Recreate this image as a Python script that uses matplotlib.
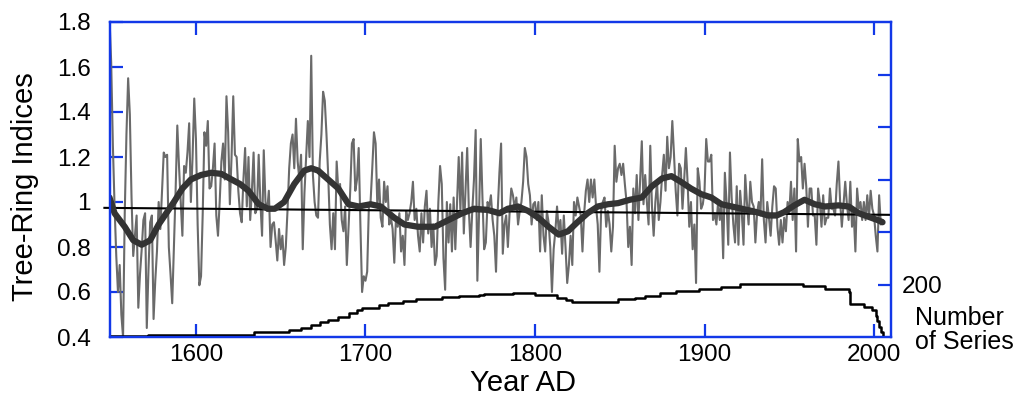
import numpy as np
import matplotlib
matplotlib.use('Agg')
import matplotlib.pyplot as plt

plt.rcParams['font.family'] = ['Liberation Sans', 'DejaVu Sans']

# Ringbreddeindeks per år, 1549-2005 (lest av figuren)
ring_index = [
    1.82,                                                              # 1549
    1.62, 1.25, 0.98, 0.76, 0.60, 0.72, 0.50, 0.40, 0.95, 1.30,        # 1550
    1.55, 1.39, 1.02, 0.76, 0.85, 0.94, 0.53, 0.68, 0.79, 0.92,        # 1560
    0.95, 0.44, 0.70, 0.91, 0.94, 0.48, 0.65, 0.78, 1.00, 0.88,        # 1570
    1.05, 1.22, 1.20, 1.21, 0.80, 0.68, 0.55, 0.80, 1.05, 1.34,        # 1580
    1.16, 1.00, 0.85, 1.16, 1.13, 1.22, 1.35, 1.00, 1.20, 1.46,        # 1590
    1.28, 0.90, 0.63, 0.67, 0.95, 1.31, 1.25, 1.36, 1.06, 1.07,        # 1600
    1.15, 1.26, 0.94, 0.85, 1.00, 1.18, 1.26, 1.10, 1.47, 1.31,        # 1610
    0.99, 1.20, 1.47, 1.21, 1.20, 1.05, 0.95, 0.91, 1.10, 1.24,        # 1620
    0.98, 1.20, 0.92, 1.05, 1.22, 0.95, 0.97, 1.21, 1.00, 0.85,        # 1630
    1.23, 1.00, 0.96, 1.05, 0.80, 0.90, 0.91, 0.83, 0.74, 0.88,        # 1640
    0.79, 0.85, 0.72, 0.80, 0.96, 1.15, 1.26, 1.30, 1.15, 1.37,        # 1650
    1.18, 1.10, 1.21, 0.79, 1.04, 1.20, 1.36, 1.20, 1.65, 1.12,        # 1660
    1.00, 0.94, 0.93, 1.18, 1.30, 1.49, 1.45, 1.30, 1.12, 0.90,        # 1670
    0.79, 0.95, 0.79, 1.18, 1.05, 1.08, 0.92, 0.87, 0.98, 0.72,        # 1680
    0.88, 1.05, 1.26, 1.28, 1.05, 1.10, 1.24, 0.90, 0.60, 0.67,        # 1690
    0.65, 0.69, 0.98, 1.00, 1.15, 1.31, 1.26, 0.98, 1.10, 0.93,        # 1700
    0.89, 1.09, 1.00, 1.07, 0.90, 0.93, 0.88, 0.73, 0.93, 0.89,        # 1710
    0.95, 0.78, 0.85, 0.72, 0.96, 0.92, 0.95, 1.00, 1.09, 0.92,        # 1720
    0.97, 0.85, 0.78, 0.95, 0.82, 0.98, 1.05, 0.86, 0.97, 0.80,        # 1730
    0.90, 0.72, 0.76, 1.00, 1.16, 1.08, 0.75, 0.61, 1.00, 0.82,        # 1740
    0.99, 0.78, 1.02, 0.79, 1.00, 1.20, 0.96, 1.22, 0.86, 1.05,        # 1750
    1.24, 0.96, 0.80, 0.96, 1.10, 1.32, 0.65, 0.95, 1.28, 1.02,        # 1760
    0.79, 0.82, 1.00, 0.98, 1.03, 0.92, 0.85, 0.69, 0.96, 1.13,        # 1770
    1.26, 0.77, 0.90, 0.94, 0.80, 0.95, 1.06, 1.03, 0.97, 1.02,        # 1780
    0.90, 0.96, 1.00, 1.09, 1.24, 1.20, 1.08, 1.03, 0.90, 0.99,        # 1790
    1.00, 0.92, 1.00, 0.78, 1.03, 0.85, 0.78, 0.96, 0.91, 0.80,        # 1800
    0.60, 0.79, 0.87, 0.98, 0.87, 0.92, 0.77, 0.94, 0.80, 0.64,        # 1810
    0.72, 0.85, 0.72, 1.00, 0.94, 1.02, 0.98, 0.94, 0.78, 0.95,        # 1820
    1.05, 1.10, 1.00, 1.10, 1.02, 1.10, 0.98, 0.90, 0.69, 0.96,        # 1830
    1.00, 1.02, 0.89, 0.96, 0.90, 0.78, 0.89, 1.25, 1.09, 1.15,        # 1840
    1.17, 1.12, 1.17, 1.08, 1.00, 0.80, 0.89, 0.72, 1.06, 0.95,        # 1850
    1.12, 0.92, 1.10, 1.27, 0.99, 1.12, 1.00, 0.90, 1.25, 0.98,        # 1860
    0.85, 1.00, 1.09, 0.92, 1.00, 1.12, 1.21, 1.05, 1.29, 1.15,        # 1870
    1.20, 1.36, 1.21, 1.05, 0.94, 1.17, 1.15, 0.97, 1.10, 1.24,        # 1880
    1.09, 0.89, 1.00, 0.79, 0.90, 0.64, 1.15, 1.09, 0.97, 0.99,        # 1890
    1.05, 1.28, 1.18, 1.18, 1.21, 0.92, 0.95, 0.90, 1.00, 0.92,        # 1900
    1.00, 0.75, 1.13, 1.00, 0.81, 1.22, 1.02, 0.90, 0.82, 1.07,        # 1910
    0.81, 1.05, 0.95, 0.81, 1.12, 1.00, 0.90, 1.09, 1.00, 0.98,        # 1920
    0.82, 0.95, 1.00, 0.94, 1.19, 0.92, 0.82, 1.00, 0.93, 0.85,        # 1930
    0.98, 1.07, 1.06, 0.89, 0.81, 0.92, 0.82, 0.93, 0.87, 1.00,        # 1940
    0.95, 1.09, 0.92, 1.06, 0.78, 1.28, 1.18, 1.20, 1.06, 1.17,        # 1950
    1.07, 0.89, 1.06, 1.06, 0.94, 0.94, 0.81, 1.06, 1.00, 0.89,        # 1960
    1.03, 0.90, 0.93, 0.93, 1.06, 0.97, 0.97, 0.94, 1.08, 1.18,        # 1970
    1.00, 0.89, 0.99, 1.09, 0.99, 0.92, 1.09, 0.89, 0.95, 0.78,        # 1980
    1.06, 0.97, 1.00, 0.92, 1.00, 0.92, 1.03, 0.93, 1.05, 0.97,        # 1990
    0.94, 0.85, 0.78, 1.03, 0.90, 0.92,                                # 2000
]
years = np.arange(1549, 1549 + len(ring_index))

# Glattet kurve (lest av figuren)
smooth_years = [1549, 1552, 1558, 1563, 1568, 1573, 1578, 1582.5, 1587, 1592, 1597, 1603,
                1609, 1615, 1621, 1626, 1631, 1637, 1642.5, 1646.5, 1652, 1658, 1664,
                1668, 1672, 1678, 1684, 1690, 1696, 1703, 1709, 1717, 1723, 1731, 1741,
                1749, 1757, 1764, 1772, 1779, 1784, 1790, 1796, 1802, 1808, 1814, 1819.5,
                1825, 1831, 1837, 1843, 1849, 1856, 1863, 1869, 1875, 1880.5, 1886,
                1892, 1898, 1904, 1910, 1916, 1922, 1928, 1933, 1937.5, 1942.5, 1947,
                1953, 1959, 1965, 1971, 1979, 1985, 1991, 1996.5, 2002, 2005]
smooth_vals = [1.02, 0.95, 0.89, 0.83, 0.81, 0.83, 0.90, 0.95, 1.00, 1.06, 1.10, 1.12,
               1.13, 1.125, 1.10, 1.08, 1.05, 0.99, 0.97, 0.97, 1.00, 1.08, 1.14,
               1.15, 1.14, 1.10, 1.06, 0.99, 0.98, 0.99, 0.98, 0.93, 0.90, 0.89, 0.89,
               0.92, 0.95, 0.97, 0.965, 0.95, 0.97, 0.98, 0.96, 0.93, 0.89, 0.855, 0.87,
               0.91, 0.95, 0.98, 0.99, 0.995, 1.01, 1.02, 1.07, 1.105, 1.115, 1.09,
               1.06, 1.035, 1.02, 0.99, 0.98, 0.97, 0.96, 0.95, 0.94, 0.94, 0.955,
               0.985, 1.01, 0.99, 0.98, 0.985, 0.98, 0.95, 0.935, 0.92, 0.91]

# Lineær trend
trend_years = [1546, 2009]
trend_vals = [0.974, 0.943]

# Antall serier (høyre akse)
count_years = [1549, 1572, 1634, 1655, 1662, 1668, 1673, 1678, 1684, 1690, 1695, 1698,
               1708, 1713, 1722, 1730, 1745, 1755, 1767, 1770, 1787, 1800, 1813, 1818,
               1822, 1849, 1859, 1865, 1874, 1883, 1897, 1910, 1921, 1958, 1971, 1985,
               1986, 1994, 1999, 2001, 2002, 2003, 2004, 2005]
series_count = [2, 9, 18, 27, 36, 46, 56, 65, 77, 90, 103, 111,
                122, 128, 137, 145, 151, 156, 160, 163, 169, 160, 150, 141,
                134, 144, 150, 157, 166, 175, 183, 192, 201, 195, 183, 172,
                126, 116, 103, 80, 60, 40, 20, 0]

x_ticks = [1600, 1700, 1800, 1900, 2000]
y_ticks = [0.4, 0.6, 0.8, 1.0, 1.2, 1.4, 1.6, 1.8]
y_ticklabels = ['0.4', '0.6', '0.8', '1', '1.2', '1.4', '1.6', '1.8']
count_ticks = [200, 400, 600, 800, 1000]
count_ticklabels = ['200', '', '', '', '']

BLUE = '#1238e8'

fig = plt.figure(figsize=(10.19, 4.03), dpi=100)
ax = fig.add_axes([110 / 1019, 1 - 337 / 403, 781 / 1019, 315 / 403])

ax.plot(years, ring_index, color='#6a6a6a', lw=1.5, zorder=2)
ax.plot(trend_years, trend_vals, color='black', lw=1.5, clip_on=False, zorder=3)
ax.plot(smooth_years, smooth_vals, color='#333333', lw=4.5, solid_capstyle='round',
        solid_joinstyle='round', zorder=4)

ax.set_xlim(1549.3, 2010)
ax.set_ylim(0.4, 1.8)
ax.set_xticks(x_ticks)
ax.set_yticks(y_ticks)
ax.set_yticklabels(y_ticklabels)

ax2 = ax.twinx()
ax2.step(count_years, series_count, where='post', color='black', lw=1.8)
ax2.set_ylim(0, 1200)
ax2.set_yticks(count_ticks)
ax2.set_yticklabels(count_ticklabels)

ax.tick_params(axis='x', direction='in', top=True, length=9.5, width=1.6, color=BLUE,
               labelsize=17.5, pad=5)
ax.tick_params(axis='y', direction='in', left=True, right=False, length=9.5, width=1.6,
               color=BLUE, labelsize=17.5, pad=14)
ax2.tick_params(axis='y', direction='in', length=9.5, width=1.6, color=BLUE,
                labelsize=17.5, pad=8)

for a in (ax, ax2):
    for s in a.spines.values():
        s.set_color(BLUE)
        s.set_linewidth(1.6)

ax.set_xlabel('Year AD', fontsize=21)
ax.xaxis.set_label_coords(0.529, -0.103)
ax.set_ylabel('Tree-Ring Indices', fontsize=21)
ax.yaxis.set_label_coords(-0.091, 0.476)

fig.text(915 / 1019, 1 - 330 / 403, 'Number\nof Series', ha='left', va='center',
         fontsize=18, linespacing=0.95)

plt.savefig('out.png', dpi=100)
